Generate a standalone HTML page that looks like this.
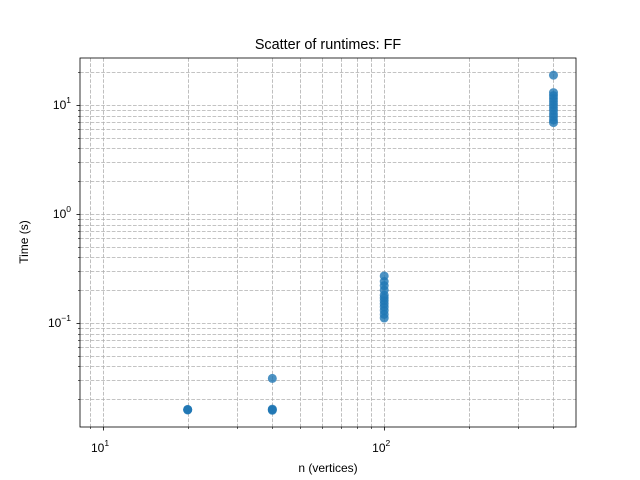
<!DOCTYPE html>
<html><head><meta charset="utf-8"><style>body{margin:0;background:#fff}svg{display:block;font-family:"Liberation Sans","DejaVu Sans",sans-serif}</style></head>
<body>
<svg id="chart" width="640" height="480"></svg>
<script>
const nValues = [20,20,20,40,40,40,40,100,100,100,100,100,100,100,100,100,100,100,100,400,400,400,400,400,400,400,400,400,400,400,400];
const timeValues = [0.016,0.0159,0.0161,0.016,0.0158,0.0162,0.031,0.111,0.12,0.13,0.14,0.15,0.16,0.17,0.18,0.2,0.22,0.24,0.27,18.8,6.9,7.3,7.8,8.3,8.9,9.5,10.1,10.8,11.5,12.2,13.0];
const xTickVals = [10,100];
const xTickLabels = ["10","10"];
const yTickVals = [0.1,1,10];
const yTickExp = ["−1","0","1"];
const L=80,R=576,T=58,B=427;
const xMin=Math.log10(8.28),xMax=Math.log10(481),yMin=Math.log10(0.0111),yMax=Math.log10(27);
const xs=v=>L+(Math.log10(v)-xMin)/(xMax-xMin)*(R-L);
const ys=v=>B-(Math.log10(v)-yMin)/(yMax-yMin)*(B-T);
const svg=document.getElementById('chart');const NS="http://www.w3.org/2000/svg";
function mk(t,a,p){const e=document.createElementNS(NS,t);for(const k in a)e.setAttribute(k,a[k]);(p||svg).appendChild(e);return e;}
const grid=mk('g',{});


for(let d=0;d<=2;d++)for(let m=1;m<10;m++){const v=m*Math.pow(10,d);if(v<8.28||v>481)continue;const x=Math.round(xs(v))+0.5;
mk('line',{x1:x,x2:x,y1:T,y2:B,stroke:'#b0b0b0','stroke-width':0.8,'stroke-dasharray':'3.7,1.6'},grid);
mk('line',{x1:x,x2:x,y1:B,y2:B+(m===1?3.5:2),stroke:'#000','stroke-width':m===1?0.8:0.6},grid);}
for(let d=-2;d<=1;d++)for(let m=1;m<10;m++){const v=m*Math.pow(10,d);if(v<0.0111||v>27)continue;const y=Math.round(ys(v))+0.5;
mk('line',{x1:L,x2:R,y1:y,y2:y,stroke:'#b0b0b0','stroke-width':0.8,'stroke-dasharray':'3.7,1.6'},grid);
mk('line',{x1:L,x2:L-(m===1?3.5:2),y1:y,y2:y,stroke:'#000','stroke-width':m===1?0.8:0.6},grid);}
const pts=mk('g',{});


nValues.forEach((n,i)=>{const c=mk('circle',{cx:xs(n),cy:ys(timeValues[i]),r:4.5,fill:'#1f77b4','fill-opacity':0.8},pts);

});
const fr=mk('rect',{x:L,y:T,width:R-L,height:B-T,fill:'none',stroke:'#000','stroke-width':0.8});


xTickVals.forEach((v,i)=>{const t=mk('text',{x:xs(v)-3,y:B+25,'font-size':12,'text-anchor':'middle'});t.innerHTML=xTickLabels[i]+'<tspan dy="-6" font-size="8.5">'+(i+1)+'</tspan>';

});
yTickVals.forEach((v,i)=>{const t=mk('text',{x:L-9,y:ys(v)+4,'font-size':12,'text-anchor':'end'});t.innerHTML='10<tspan dy="-6" font-size="8.5">'+yTickExp[i]+'</tspan>';

});
</script>
<svg width="640" height="480" style="position:absolute;left:0;top:0">
<text x="328" y="49" font-size="14.4" text-anchor="middle">Scatter of runtimes: FF</text>
<text x="328" y="472" font-size="12" text-anchor="middle">n (vertices)</text>
<text x="28" y="242" font-size="12" text-anchor="middle" transform="rotate(-90 28 242)">Time (s)</text>
</svg>
</body></html>
